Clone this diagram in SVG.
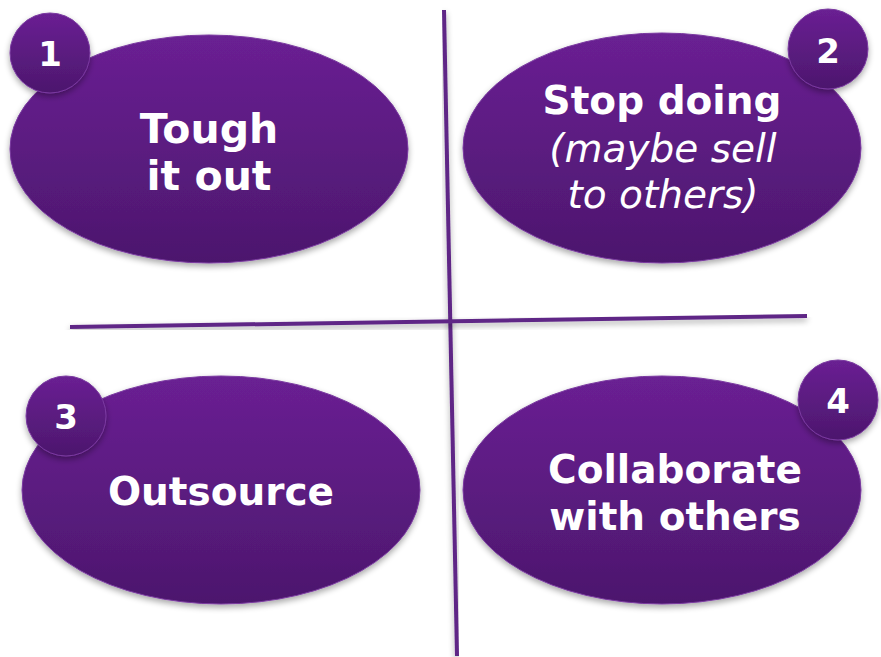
<svg xmlns="http://www.w3.org/2000/svg" width="881" height="657" viewBox="0 0 881 657">
<defs>
<linearGradient id="g" x1="0" y1="0" x2="0" y2="1">
<stop offset="0" stop-color="#6a2093"/>
<stop offset="1" stop-color="#4c176d"/>
</linearGradient>
<filter id="sh" x="-10%" y="-10%" width="120%" height="130%">
<feGaussianBlur in="SourceAlpha" stdDeviation="3"/>
<feOffset dy="3" result="b"/>
<feComponentTransfer><feFuncA type="linear" slope="0.35"/></feComponentTransfer>
<feMerge><feMergeNode/><feMergeNode in="SourceGraphic"/></feMerge>
</filter>
</defs>
<style>
.shape{fill:url(#g);stroke:#7a3aa0;stroke-width:1;filter:url(#sh)}
.t{font-family:"DejaVu Sans",Verdana,sans-serif;font-weight:bold;fill:#ffffff;text-anchor:middle;font-size:39px}
.it{font-family:"DejaVu Sans",Verdana,sans-serif;font-style:italic;fill:#ffffff;text-anchor:middle;font-size:39px}
.n{font-family:"DejaVu Sans",Verdana,sans-serif;font-weight:bold;fill:#ffffff;text-anchor:middle;font-size:34px}
.ax{stroke:#5e2686;stroke-width:4;fill:none;filter:url(#sh)}
</style>
<g id="connectors">
<line class="ax" x1="444" y1="10" x2="457" y2="656"/>
<line class="ax" x1="70" y1="327" x2="807" y2="316"/>
</g>
<g id="node1">
<ellipse class="shape" cx="209" cy="149" rx="199" ry="114"/>
<text class="t" x="209" y="143" style="font-size:41px">Tough</text>
<text class="t" x="209" y="190" style="font-size:41px">it out</text>
<circle class="shape" cx="50" cy="53" r="40"/>
<text class="n" x="50" y="66">1</text>
</g>
<g id="node2">
<ellipse class="shape" cx="662" cy="148" rx="199" ry="115"/>
<text class="t" x="662" y="114">Stop doing</text>
<text class="it" x="663" y="162">(maybe sell</text>
<text class="it" x="663" y="208">to others)</text>
<circle class="shape" cx="828" cy="49" r="40"/>
<text class="n" x="828" y="63">2</text>
</g>
<g id="node3">
<ellipse class="shape" cx="221" cy="490" rx="199" ry="114"/>
<text class="t" x="221" y="505">Outsource</text>
<circle class="shape" cx="66" cy="416" r="40"/>
<text class="n" x="66" y="429">3</text>
</g>
<g id="node4">
<ellipse class="shape" cx="662" cy="490" rx="199" ry="114"/>
<text class="t" x="675" y="483">Collaborate</text>
<text class="t" x="675" y="530">with others</text>
<circle class="shape" cx="838" cy="400" r="40"/>
<text class="n" x="838" y="413">4</text>
</g>
</svg>
